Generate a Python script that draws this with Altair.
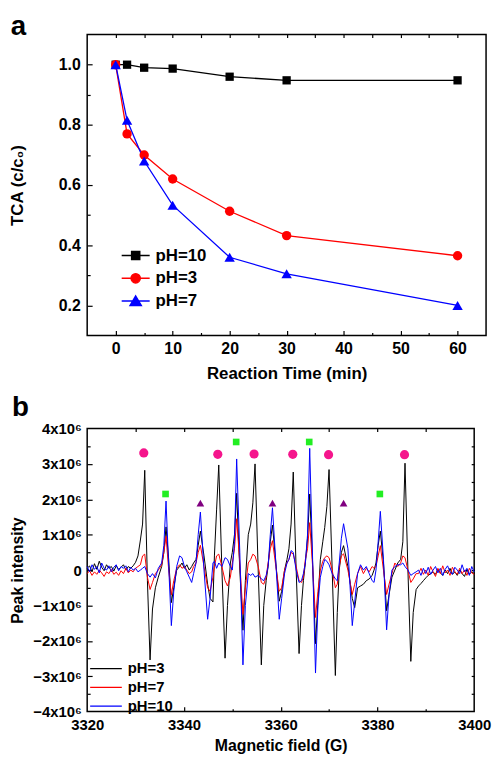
import altair as alt
import pandas as pd

FONT = "Liberation Sans, Arial, sans-serif"

# ---------------- panel a : TCA removal ----------------
time_min = [0, 2, 5, 10, 20, 30, 60]
tca_ph10 = [1.000, 1.000, 0.990, 0.987, 0.960, 0.948, 0.948]
tca_ph3 = [1.000, 0.770, 0.700, 0.620, 0.513, 0.432, 0.365]
tca_ph7 = [1.000, 0.815, 0.680, 0.533, 0.360, 0.305, 0.200]
series_a = ["pH=10", "pH=3", "pH=7"]
colors_a = ["#000000", "#ff0000", "#0000ff"]

# ---------------- panel b : EPR spectra (intensity in 1e6) ----------------
field_G = [
    3320.0, 3320.5, 3321.0, 3321.5, 3322.0, 3322.5, 3323.0, 3323.5, 3324.0, 3324.5, 3325.0,
    3325.5, 3326.0, 3326.5, 3327.0, 3327.5, 3328.0, 3328.5, 3329.0, 3329.5, 3330.0, 3330.5,
    3331.0, 3331.45, 3331.9, 3332.45, 3333.0, 3333.5, 3334.1, 3334.7,
    3335.4, 3335.85, 3336.3, 3336.85, 3337.4, 3337.9, 3338.5,
    3339.1, 3339.6, 3340.1, 3340.6, 3341.1, 3341.6, 3342.0,
    3342.5, 3342.95, 3343.4, 3344.15, 3344.9, 3345.4, 3346.0,
    3346.3, 3346.75, 3347.2, 3347.85, 3348.5, 3349.0, 3349.6,
    3350.0, 3350.45, 3350.9, 3351.55, 3352.2, 3352.7, 3353.3,
    3353.8, 3354.25, 3354.7, 3355.35, 3356.0, 3356.5, 3357.0,
    3357.4, 3357.85, 3358.3, 3359.0, 3359.7, 3360.2, 3360.8,
    3361.3, 3361.7, 3362.15, 3362.6, 3363.2, 3363.8, 3364.3, 3364.7,
    3365.1, 3365.55, 3366.0, 3366.6, 3367.2, 3367.7, 3368.2,
    3368.7, 3369.1, 3369.55, 3370.0, 3370.65, 3371.3, 3371.7,
    3372.1, 3372.55, 3373.0, 3373.9, 3374.8, 3375.3, 3375.9,
    3376.5, 3377.1, 3377.7, 3378.3, 3378.9, 3379.3,
    3379.7, 3380.15, 3380.6, 3381.25, 3381.9, 3382.4, 3383.0,
    3383.6, 3384.2,
    3384.8, 3385.25, 3385.7, 3386.3, 3386.9, 3387.4, 3388.0,
    3388.5, 3389.0, 3389.5, 3390.0, 3390.5, 3391.0, 3391.5, 3392.0, 3392.5, 3393.0, 3393.5, 3394.0,
    3394.5, 3395.0, 3395.5, 3396.0, 3396.5, 3397.0, 3397.5, 3398.0, 3398.5, 3399.0, 3399.5, 3400.0,
]
epr_ph3 = [
    0.05, 0.12, -0.05, 0.18, 0.02, 0.25, 0.08, -0.02, 0.15, 0.05, 0.10,
    -0.03, 0.12, 0.02, 0.08, 0.15, 0.00, 0.10, 0.05, 0.12, 0.22, 0.40,
    0.85, 1.30, 2.82, -0.30, -2.54, -1.10, -0.50, -0.20,
    0.10, 0.50, 1.22, 0.30, -0.92, -0.50, 0.00,
    0.10, 0.20, 0.05, 0.15, 0.00, 0.10, 0.20,
    0.30, 0.70, 1.10, 0.40, -0.40, -0.80, -0.90,
    0.40, 1.70, 2.97, 0.00, -2.49, -1.00, 0.20,
    0.50, 1.00, 2.17, 0.00, -1.70, -0.30, 1.00,
    1.30, 1.90, 3.00, 0.00, -2.68, -1.00, -0.30,
    0.10, 0.80, 1.27, 0.20, -0.88, -0.60, 0.00,
    0.30, 0.60, 1.30, 2.77, 0.00, -2.36, -1.00, -0.30,
    0.20, 0.90, 2.15, 0.20, -2.08, -0.90, 0.30,
    0.80, 1.20, 1.80, 2.84, 0.00, -2.98, -1.20,
    0.00, 0.50, 0.69, 0.10, -0.80, -1.06, -0.50,
    -0.45, -0.40, -0.30, -0.25, -0.15, 0.00,
    0.20, 0.70, 1.10, 0.20, -1.15, -0.70, -0.20,
    0.00, 0.20,
    0.30, 0.80, 3.02, 0.00, -2.58, -1.20, -0.55,
    -0.45, -0.38, -0.30, -0.22, -0.15, -0.10, -0.05, -0.12, 0.02, -0.08, -0.15, 0.00,
    -0.10, 0.05, -0.12, -0.05, -0.15, 0.00, -0.10, -0.18, 0.02, -0.12, -0.05, -0.10,
]
epr_ph7 = [
    -0.10, -0.02, -0.15, -0.05, -0.12, 0.00, -0.08, -0.18, -0.05, -0.10, 0.02,
    -0.12, -0.06, -0.15, -0.02, -0.10, 0.05, -0.08, 0.00, -0.05, 0.05, 0.10,
    0.15, 0.40, 0.45, -0.20, -0.55, -0.35, -0.10, 0.00,
    0.15, 0.50, 0.95, 0.00, -0.70, -0.30, 0.05,
    0.15, 0.05, 0.10, 0.00, -0.10, -0.05, 0.10,
    0.20, 0.50, 0.70, 0.10, -0.50, -0.60, -0.20,
    0.10, 0.40, 0.45, 0.10, -0.30, -0.45, -0.20,
    0.20, 0.60, 1.45, 0.20, -1.25, -0.50, 0.20,
    0.30, 0.45, 0.40, 0.10, -0.35, -0.40, -0.20,
    0.20, 0.60, 0.83, 0.10, -0.60, -0.50, 0.00,
    0.20, 0.30, 0.50, 0.45, 0.10, -0.30, -0.35, -0.20,
    0.30, 0.60, 1.34, 0.10, -1.34, -0.60, 0.00,
    0.25, 0.35, 0.40, 0.35, 0.00, -0.50, -0.40,
    0.10, 0.40, 0.46, 0.00, -0.69, -0.40, -0.10,
    0.10, -0.10, 0.05, -0.05, 0.10, 0.05,
    0.10, 0.40, 0.69, 0.00, -0.69, -0.40, -0.10,
    0.20, 0.10,
    0.20, 0.40, 0.35, 0.00, -0.35, -0.25, -0.10,
    -0.10, 0.05, -0.12, 0.00, -0.15, 0.10, -0.05, -0.18, 0.05, -0.10, 0.12, -0.08,
    0.00, -0.15, 0.08, -0.05, -0.12, 0.05, -0.10, 0.00, -0.15, 0.05, -0.08, -0.12,
]
epr_ph10 = [
    0.10, -0.05, 0.15, 0.02, 0.10, -0.08, 0.20, 0.05, 0.00, 0.12, -0.05,
    0.08, 0.15, -0.02, 0.10, 0.05, 0.12, -0.05, 0.08, 0.00, 0.05, -0.05,
    0.00, 0.05, 0.10, -0.10, -0.20, -0.10, -0.22, 0.05,
    0.20, 0.70, 1.95, 0.10, -1.57, -0.60, 0.10,
    0.40, 0.35, 0.10, -0.05, -0.20, -0.35, -0.10,
    0.20, 1.00, 1.64, 0.00, -1.39, -0.80, 0.20,
    0.25, 0.05, 0.20, 0.10, 0.35, 0.30, 0.10,
    0.00, 0.80, 3.14, 0.50, -2.68, -1.00, -0.10,
    -0.15, -0.10, -0.20, -0.15, -0.25, -0.30, -0.15,
    0.10, 1.00, 1.76, 0.20, -1.39, -0.80, -0.10,
    0.20, 0.30, 0.55, 0.50, 0.00, -0.35, -0.30, -0.10,
    0.20, 1.00, 3.44, 0.30, -2.91, -1.00, -0.20,
    0.10, 0.30, 0.25, 0.15, -0.10, -0.25, -0.30,
    0.20, 0.90, 1.31, 0.60, -1.57, -0.90, -0.10,
    0.15, 0.00, 0.10, -0.10, -0.30, -0.35,
    0.00, 0.80, 1.66, 0.30, -1.69, -0.70, 0.00,
    0.10, 0.15,
    0.15, 0.20, 0.10, 0.00, -0.15, -0.10, -0.05,
    0.00, -0.15, 0.05, -0.10, 0.08, -0.12, 0.00, 0.10, -0.08, 0.05, -0.15, 0.02,
    0.12, -0.05, -0.12, 0.08, 0.00, -0.10, 0.15, -0.05, 0.05, -0.15, 0.10, -0.05,
]
series_b = ["pH=3", "pH=7", "pH=10"]
colors_b = ["#000000", "#ff0000", "#0000ff"]

circle_G = [3331.7, 3347.0, 3354.5, 3362.5, 3369.9, 3385.6]
circle_I = [3.31, 3.27, 3.28, 3.27, 3.26, 3.26]
square_G = [3336.2, 3350.8, 3365.9, 3380.5]
square_I = [2.15, 3.62, 3.62, 2.15]
tri_G = [3343.4, 3358.3, 3373.0]
tri_I = [1.89, 1.89, 1.89]

assert len(field_G) == len(epr_ph3) == len(epr_ph7) == len(epr_ph10)

# ---------------- data frames ----------------
rows_a = []
for name, vals in zip(series_a, [tca_ph10, tca_ph3, tca_ph7]):
    for t, v in zip(time_min, vals):
        rows_a.append({"time": t, "tca": v, "series": name})
df_a = pd.DataFrame(rows_a)

rows_b = []
for k, (name, vals) in enumerate(zip(series_b, [epr_ph3, epr_ph7, epr_ph10])):
    for g, v in zip(field_G, vals):
        rows_b.append({"field": g, "inten": v, "series": name, "k": k})
df_b = pd.DataFrame(rows_b)
df_circ = pd.DataFrame({"field": circle_G, "inten": circle_I})
df_sq = pd.DataFrame({"field": square_G, "inten": square_I})
df_tri = pd.DataFrame({"field": tri_G, "inten": tri_I})


def tick_axis(orient, values, size):
    return alt.Axis(orient=orient, values=values, labels=False, domain=False, grid=False,
                    ticks=True, tickSize={"expr": str(-size)}, tickColor="black",
                    tickWidth=1.2, title=None)


def label_axis(orient, values, title, lsize, tsize, lpad, tpad, **kw):
    return alt.Axis(orient=orient, values=values, ticks=False, domain=False, grid=False,
                    labelFont=FONT, labelFontSize=lsize, labelFontWeight="bold",
                    labelColor="black", labelPadding=lpad, labelFlush=False,
                    title=title, titleFont=FONT, titleFontSize=tsize,
                    titleFontWeight="bold", titleColor="black", titlePadding=tpad, **kw)


# ---------------- panel a ----------------
sx_a = alt.Scale(domain=[-5, 65], nice=False, zero=False)
sy_a = alt.Scale(domain=[0.1, 1.1], nice=False, zero=False)


def enc_a(chart, ax, ay):
    return chart.encode(
        x=alt.X("time:Q", scale=sx_a, axis=ax),
        y=alt.Y("tca:Q", scale=sy_a, axis=ay),
    )


base_a = alt.Chart(df_a)
lines_a = enc_a(base_a.mark_line(strokeWidth=1.3),
                label_axis("bottom", list(range(0, 61, 10)), "Reaction Time (min)", 16, 17, 5, 9, format="d"),
                label_axis("left", [0.2, 0.4, 0.6, 0.8, 1.0], "TCA (c/c\u2080)", 16, 17, 7, 32, format=".1f"),
                ).encode(color=alt.Color("series:N", scale=alt.Scale(domain=series_a, range=colors_a), legend=None))

pts10 = enc_a(base_a.transform_filter("datum.series == 'pH=10'").mark_point(
    shape="square", filled=True, size=70, color=colors_a[0], opacity=1),
    tick_axis("bottom", list(range(0, 61, 10)), 5), tick_axis("left", [0.2, 0.4, 0.6, 0.8, 1.0], 5))
pts3 = enc_a(base_a.transform_filter("datum.series == 'pH=3'").mark_point(
    shape="circle", filled=True, size=90, color=colors_a[1], opacity=1),
    tick_axis("bottom", [5, 15, 25, 35, 45, 55], 3), tick_axis("left", [0.3, 0.5, 0.7, 0.9], 3))
pts7 = enc_a(base_a.transform_filter("datum.series == 'pH=7'").mark_point(
    shape="triangle-up", filled=True, size=110, color=colors_a[2], opacity=1),
    tick_axis("top", list(range(0, 61, 5)), 3), None)

legend_paths = [
    "M-1,0H1M-0.29,-0.29H0.29V0.29H-0.29Z",
    "M-1,0H1M0.33,0A0.33,0.33,0,1,1,-0.33,0A0.33,0.33,0,1,1,0.33,0Z",
    "M-1,0H1M0,-0.36L0.4,0.32L-0.4,0.32Z",
]
leg_a = alt.Legend(orient="none", legendX=34, legendY=212, title=None, symbolSize=800,
                   symbolStrokeWidth=1.5, symbolOpacity=1, labelFont=FONT, labelFontSize=17,
                   labelFontWeight="bold", labelColor="black", labelOffset=5, padding=0,
                   rowPadding=0, clipHeight=22.5)
legend_layer_a = enc_a(base_a.transform_filter("false").mark_point(filled=True), None, None).encode(
    fill=alt.Fill("series:N", scale=alt.Scale(domain=series_a, range=colors_a), legend=leg_a),
    stroke=alt.Stroke("series:N", scale=alt.Scale(domain=series_a, range=colors_a), legend=leg_a),
    shape=alt.Shape("series:N", scale=alt.Scale(domain=series_a, range=legend_paths), legend=leg_a),
)

panel_a = alt.layer(lines_a, pts10, pts3, pts7, legend_layer_a).resolve_axis(
    x="independent", y="independent").properties(
    width=403, height=304,
    title=alt.TitleParams("a", anchor="start", frame="bounds", font=FONT, fontSize=28,
                          fontWeight="bold", color="black", offset=-7, dx=2))

# ---------------- panel b ----------------
sx_b = alt.Scale(domain=[3320, 3400], nice=False, zero=False)
sy_b = alt.Scale(domain=[-4, 4], nice=False, zero=False)


def enc_b(chart, ax, ay):
    return chart.encode(
        x=alt.X("field:Q", scale=sx_b, axis=ax),
        y=alt.Y("inten:Q", scale=sy_b, axis=ay),
    )


leg_b = alt.Legend(orient="none", legendX=2, legendY=233, title=None, symbolType="stroke",
                   symbolSize=1024, symbolStrokeWidth=1.3, labelFont=FONT, labelFontSize=15,
                   labelFontWeight="bold", labelColor="black", labelOffset=5, padding=0,
                   rowPadding=0, clipHeight=19)

lines_b = enc_b(alt.Chart(df_b).mark_line(strokeWidth=1.0),
                label_axis("bottom", list(range(3320, 3401, 20)), "Magnetic field (G)", 15, 16, 6, 5, format="d"),
                label_axis("left", list(range(-4, 5)), "Peak intensity", 15, 16, 6, 7,
                           labelExpr="datum.value == 0 ? '0' : format(datum.value, 'd') + 'x10\u2076'"),
                ).encode(color=alt.Color("series:N", scale=alt.Scale(domain=series_b, range=colors_b),
                                         legend=leg_b),
                         order=alt.Order("k:Q"))

circ_b = enc_b(alt.Chart(df_circ).mark_point(shape="circle", filled=True, size=86,
                                             color="#f5158c", opacity=1),
               tick_axis("bottom", [3340, 3360, 3380], 5), tick_axis("left", [-3, -2, -1, 0, 1, 2, 3], 5))
sq_b = enc_b(alt.Chart(df_sq).mark_point(shape="square", filled=True, size=45,
                                         color="#22ee22", opacity=1),
             tick_axis("bottom", [3330, 3350, 3370, 3390], 3),
             tick_axis("left", [-3.5, -2.5, -1.5, -0.5, 0.5, 1.5, 2.5, 3.5], 3))
tri_b = enc_b(alt.Chart(df_tri).mark_point(shape="triangle-up", filled=True, size=60,
                                           color="#800080", opacity=1),
              tick_axis("top", [3330, 3340, 3350, 3360, 3370, 3380, 3390], 3),
              tick_axis("right", [-3.5, -3, -2.5, -2, -1.5, -1, -0.5, 0, 0.5, 1, 1.5, 2, 2.5, 3, 3.5], 3))

panel_b = alt.layer(lines_b, circ_b, sq_b, tri_b).resolve_axis(
    x="independent", y="independent").properties(
    width=391, height=286,
    title=alt.TitleParams("b", anchor="start", frame="bounds", font=FONT, fontSize=28,
                          fontWeight="bold", color="black", offset=0, dx=2))

chart = alt.vconcat(panel_a, panel_b, spacing=11).resolve_scale(
    color="independent"
).properties(
    padding={"left": 0, "top": 0, "right": 0, "bottom": 0}
).configure_view(stroke="black", strokeWidth=1.5)

chart.save("out.html", embed_options={"renderer": "svg", "actions": False})
